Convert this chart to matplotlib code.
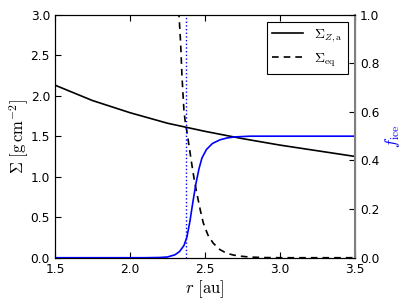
import matplotlib
matplotlib.use('Agg')
import matplotlib.pyplot as plt

plt.rcParams['mathtext.fontset'] = 'cm'
plt.rcParams['font.family'] = ['DejaVu Sans']

# Sigma_Z,a (solid black)
r_za = [1.5, 1.75, 2.0, 2.25, 2.5, 2.75, 3.0, 3.25, 3.5]
sigma_za = [2.13, 1.94, 1.79, 1.66, 1.56, 1.47, 1.39, 1.32, 1.25]

# Sigma_eq (dashed black)
r_eq = [2.30, 2.327, 2.338, 2.347, 2.36, 2.371, 2.378, 2.395, 2.411, 2.43,
        2.451, 2.47, 2.489, 2.52, 2.555, 2.60, 2.645, 2.69, 2.733, 2.80,
        2.90, 3.0, 3.5]
sigma_eq = [3.6, 3.0, 2.65, 2.24, 1.82, 1.64, 1.58, 1.37, 1.17, 0.95,
            0.75, 0.58, 0.43, 0.28, 0.18, 0.10, 0.055, 0.033, 0.02, 0.008,
            0.002, 0.0, 0.0]

# f_ice (blue, right axis)
r_ice = [1.5, 2.1, 2.2, 2.25, 2.3, 2.33, 2.36, 2.38, 2.40, 2.42, 2.44,
         2.46, 2.48, 2.51, 2.55, 2.60, 2.65, 2.70, 2.80, 3.5]
f_ice = [0.0, 0.0, 0.001, 0.003, 0.012, 0.025, 0.05, 0.085, 0.15, 0.23,
         0.305, 0.365, 0.41, 0.445, 0.47, 0.485, 0.493, 0.497, 0.5, 0.5]

r_snow = 2.372

fig = plt.figure(figsize=(4.07, 3.05), dpi=100)
ax = fig.add_axes([0.135, 0.155, 0.737, 0.797])
ax2 = ax.twinx()

l1, = ax.plot(r_za, sigma_za, color='k', lw=1.2, label=r'$\Sigma_{Z,\mathrm{a}}$')
l2, = ax.plot(r_eq, sigma_eq, color='k', ls='--', dashes=(4, 3), lw=1.2,
              label=r'$\Sigma_\mathrm{eq}$')
ax.axvline(r_snow, color='b', ls=':', lw=1.0)
ax2.plot(r_ice, f_ice, color='b', lw=1.2)

ax.set_xlim(1.5, 3.5)
ax.set_ylim(0, 3.0)
ax2.set_ylim(0, 1.0)
ax.set_xticks([1.5, 2.0, 2.5, 3.0, 3.5])
ax.set_yticks([0.0, 0.5, 1.0, 1.5, 2.0, 2.5, 3.0])
ax2.set_yticks([0.0, 0.2, 0.4, 0.6, 0.8, 1.0])

ax.tick_params(direction='in', top=True, right=False, labelsize=8.8, length=4)
ax2.tick_params(direction='in', labelsize=8.8, length=4)
ax2.spines['right'].set_color('0.5')
ax2.spines['right'].set_linewidth(1.5)

ax.set_xlabel(r'$r\ [\mathrm{au}]$', fontsize=12, labelpad=2)
ax.set_ylabel(r'$\Sigma\ [\mathrm{g\,cm^{-2}}]$', fontsize=12, labelpad=0)
ax2.set_ylabel(r'$f_\mathrm{ice}$', fontsize=12, color='b', labelpad=3)

leg = ax.legend(handles=[l1, l2], loc='upper right', fancybox=False,
                edgecolor='k', framealpha=1, fontsize=10, handlelength=2.2)
leg.get_frame().set_linewidth(0.8)

fig.savefig('out.png', dpi=100, facecolor='white')
